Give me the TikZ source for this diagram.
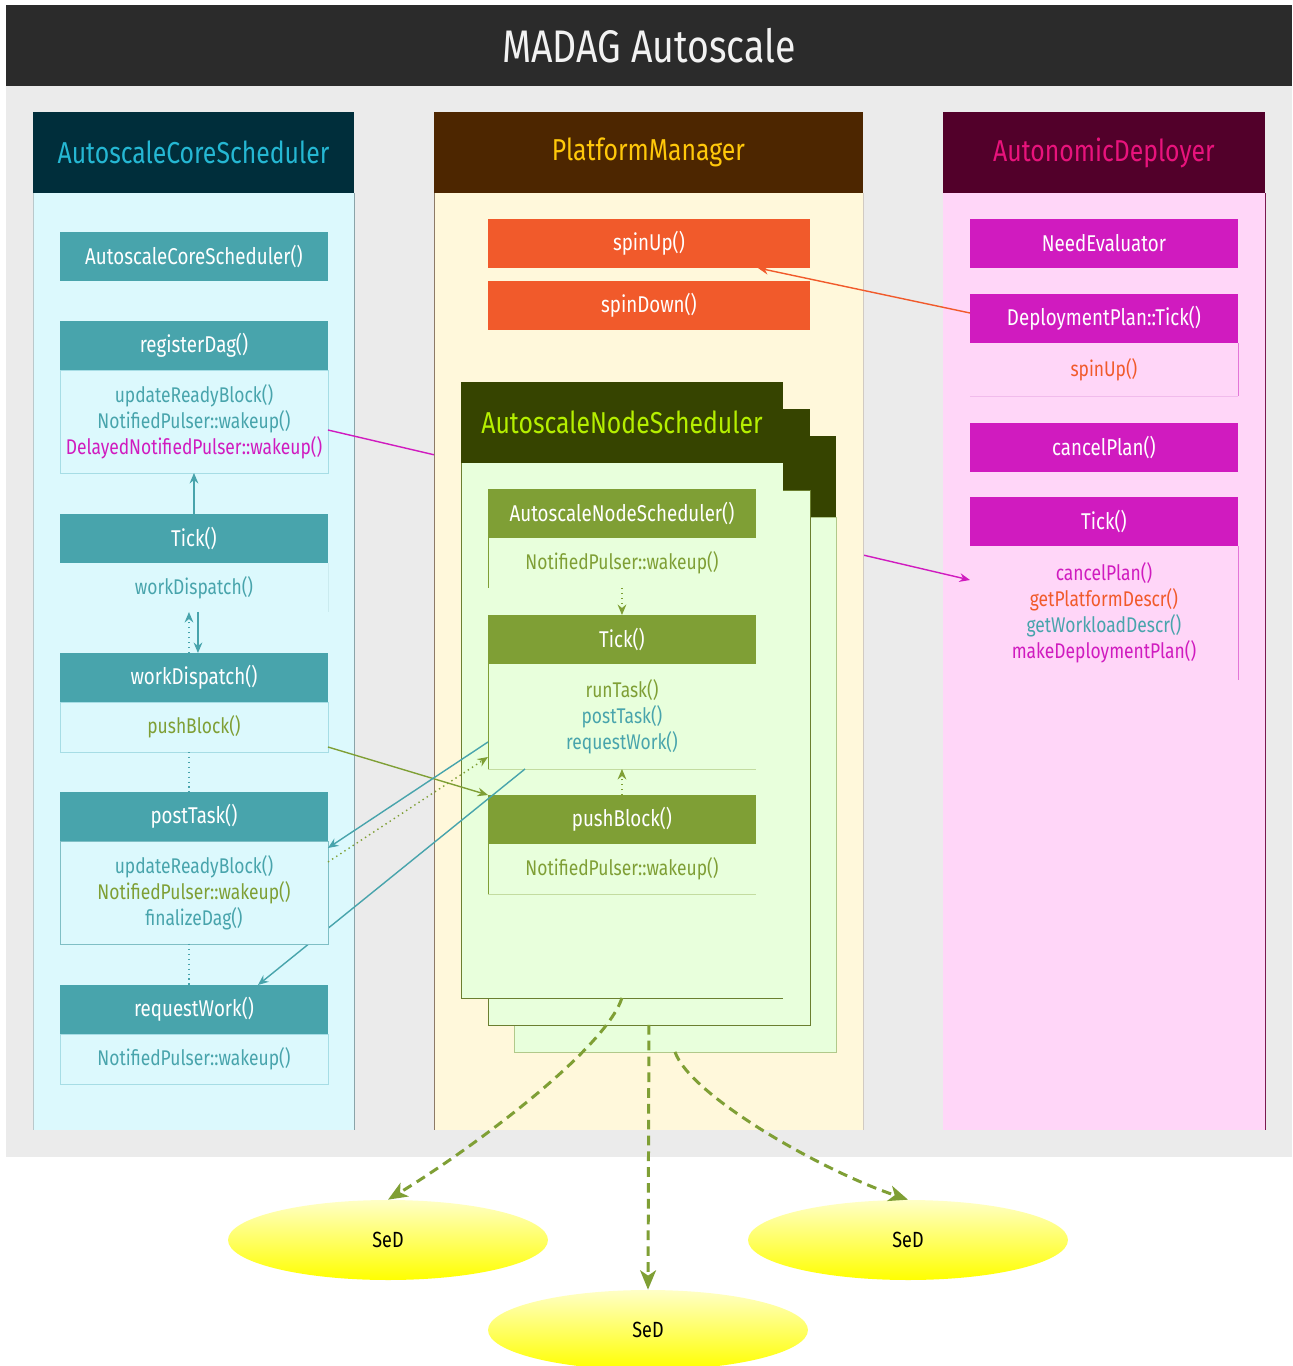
\documentclass[tikz,border=0pt]{standalone}
\usepackage{fontspec}
\setmainfont{Fira Sans}[FakeStretch=0.82]
\usetikzlibrary{arrows.meta,shapes.geometric}

\definecolor{barbg}{HTML}{2B2B2B}
\definecolor{panelbg}{HTML}{EBEBEB}
\definecolor{acsdark}{HTML}{002E3B}
\definecolor{acstitle}{HTML}{25B7D3}
\definecolor{acsbg}{HTML}{DCF9FD}
\definecolor{acsbox}{HTML}{48A4AC}
\definecolor{acsline}{HTML}{A6DDE5}
\definecolor{acsedge}{HTML}{8AA3A8}
\definecolor{pmdark}{HTML}{4D2600}
\definecolor{pmtitle}{HTML}{FFC80A}
\definecolor{pmbg}{HTML}{FFF8DB}
\definecolor{pmedge}{HTML}{8C7A66}
\definecolor{pmbox}{HTML}{F15A2B}
\definecolor{ansdark}{HTML}{364400}
\definecolor{anstitle}{HTML}{B5EF00}
\definecolor{ansbg}{HTML}{E8FFDC}
\definecolor{ansbox}{HTML}{7F9F35}
\definecolor{ansedge}{HTML}{6B7F30}
\definecolor{ansline}{HTML}{C3DCA0}
\definecolor{addark}{HTML}{52002A}
\definecolor{adtitle}{HTML}{E8137C}
\definecolor{adbg}{HTML}{FFD6F8}
\definecolor{adbox}{HTML}{D01BBF}
\definecolor{adedge}{HTML}{7A1A50}

\tikzset{
  box/.style={rectangle, inner sep=0pt, outer sep=0pt, anchor=north west},
  lanetitle/.style={box, minimum height=1.62cm, font=\fontsize{17.2}{19}\selectfont},
  head/.style={box, minimum height=0.98cm, text=white, font=\fontsize{13}{15}\selectfont},
  body/.style={box, align=center, font=\fontsize{12.1}{14.8}\selectfont},
  acshead/.style={head, fill=acsbox, minimum width=5.36cm},
  acsbody/.style={body, fill=acsbg, draw=acsline, minimum width=5.36cm, text=acsbox},
  pmhead/.style={head, fill=pmbox, minimum width=6.44cm},
  anshead/.style={head, fill=ansbox, minimum width=5.36cm},
  ansbody/.style={body, fill=ansbg, minimum width=5.36cm, text=ansbox},
  adhead/.style={head, fill=adbox, minimum width=5.36cm},
  adbody/.style={body, fill=adbg, minimum width=5.36cm, text=adbox},
  stackhead/.style={box, fill=ansdark, minimum width=6.44cm, minimum height=1.62cm},
  stackbody/.style={box, fill=ansbg, minimum width=6.44cm, minimum height=10.7cm},
  sed/.style={ellipse, minimum width=6.4cm, minimum height=1.6cm, inner sep=0pt,
    top color=yellow!22, bottom color=yellow, font=\fontsize{12.5}{14}\selectfont},
  acsflow/.style={draw=acsbox, line width=0.8pt},
  ansflow/.style={draw=ansbox, line width=0.8pt},
  pmflow/.style={draw=pmbox, line width=0.8pt},
  adflow/.style={draw=adbox, line width=0.8pt},
  spawn/.style={draw=ansbox, line width=1.7pt, dash pattern=on 5.5pt off 3.5pt},
  >={Stealth[length=6pt, width=5pt, inset=2pt]}
}

\begin{document}
\begin{tikzpicture}[x=0.02cm, y=-0.02cm]
  \useasboundingbox[fill=white] (0,0) rectangle (1292,1366);

  % title bar and panel
  \fill[panelbg] (6,86) rectangle (1292,1157);
  \node[box, fill=barbg, minimum width=25.72cm, minimum height=1.62cm, text=white!95!black,
    font=\fontsize{26}{28}\selectfont] (title) at (6,5) {MADAG Autoscale};

  % AutoscaleCoreScheduler lane
  \node[box, fill=acsbg, minimum width=6.42cm, minimum height=18.74cm] (acslane) at (33,193) {};
  \node[lanetitle, fill=acsdark, minimum width=6.42cm, text=acstitle] (acstitle) at (33,112) {AutoscaleCoreScheduler};
  \draw[acsedge!60] (acslane.north west) -- (acslane.south west);
  \draw[acsedge] (acslane.north east) -- (acslane.south east);

  % AutonomicDeployer lane
  \node[box, fill=adbg, minimum width=6.44cm, minimum height=18.74cm] (adlane) at (943,193) {};
  \node[lanetitle, fill=addark, minimum width=6.44cm, text=adtitle] (adtitle) at (943,112) {AutonomicDeployer};
  \draw[adedge] (adlane.north east) -- (adlane.south east);

  % core scheduler calls
  \node[acshead] (acsctor) at (60,232) {AutoscaleCoreScheduler()};
  \node[acshead] (rdhead) at (60,321) {registerDag()};
  \node[acsbody, minimum height=2.06cm] (rdbody) at (60,370)
    {updateReadyBlock()\\NotifiedPulser::wakeup()\\\textcolor{adbox}{DelayedNotifiedPulser::wakeup()}};
  \node[acshead] (acstick) at (60,514) {Tick()};
  \node[acsbody, draw=none, minimum height=0.98cm] (acstickbody) at (60,563) {workDispatch()};
  \draw[acsline!60] (acstickbody.north east) -- (acstickbody.south east);
  \node[acshead] (wdhead) at (60,653) {workDispatch()};
  \node[acsbody, minimum height=1.0cm] (wdbody) at (60,702) {\textcolor{ansbox}{pushBlock()}};
  \node[acshead] (rwhead) at (60,985) {requestWork()};
  \node[acsbody, minimum height=1.0cm] (rwbody) at (60,1034) {NotifiedPulser::wakeup()};

  % deployer calls
  \node[adhead] (needeval) at (970,219) {NeedEvaluator};
  \node[adhead] (dphead) at (970,294) {DeploymentPlan::Tick()};
  \node[adbody, minimum height=1.06cm] (dpbody) at (970,343) {\textcolor{pmbox}{spinUp()}};
  \draw[adbox!30] (dpbody.south west) -- (dpbody.south east);
  \draw[adbox!60] (dpbody.north east) -- (dpbody.south east);
  \node[adhead] (cancel) at (970,423) {cancelPlan()};
  \node[adhead] (adtick) at (970,497) {Tick()};
  \node[adbody, minimum height=2.68cm] (adtickbody) at (970,546)
    {cancelPlan()\\\textcolor{pmbox}{getPlatformDescr()}\\\textcolor{acsbox}{getWorkloadDescr()}\\makeDeploymentPlan()};
  \draw[adbox!60] (adtickbody.north east) -- (adtickbody.south east);

  \draw[adflow, ->] ([yshift=-0.17cm]rdbody.east) -- ([yshift=0.66cm]adtickbody.west);

  % PlatformManager lane
  \node[box, fill=pmbg, minimum width=8.58cm, minimum height=18.74cm] (pmlane) at (434,193) {};
  \node[lanetitle, fill=pmdark, minimum width=8.58cm, text=pmtitle] (pmtitle) at (434,112) {PlatformManager};
  \draw[pmedge] (pmlane.north west) -- (pmlane.south west);
  \draw[pmedge!40] (pmlane.north east) -- (pmlane.south east);
  \node[pmhead] (spinup) at (488,219) {spinUp()};
  \node[pmhead] (spindown) at (488,281) {spinDown()};

  % stack of node schedulers
  \node[stackbody, draw=ansline!80!ansedge] (ansback) at (514,517) {};
  \node[stackhead] (ansbackhead) at (514,436) {};
  \node[stackbody, draw=ansedge] (ansmid) at (488,490) {};
  \node[stackhead] (ansmidhead) at (488,409) {};
  \node[stackbody] (ansfront) at (461,463) {};
  \draw[ansedge] (ansfront.north west) -- (ansfront.south west) -- (ansfront.south east);
  \node[stackhead, text=anstitle, font=\fontsize{17.2}{19}\selectfont] (ansfronthead) at (461,382) {AutoscaleNodeScheduler};

  \node[anshead] (ctorhead) at (488,489) {AutoscaleNodeScheduler()};
  \node[ansbody, minimum height=1.0cm] (ctorbody) at (488,538) {NotifiedPulser::wakeup()};
  \draw[ansbox] (ctorbody.north west) -- (ctorbody.south west);
  \node[anshead] (nthead) at (488,615) {Tick()};
  \node[ansbody, minimum height=2.1cm] (ntbody) at (488,664)
    {runTask()\\\textcolor{acsbox}{postTask()}\\\textcolor{acsbox}{requestWork()}};
  \draw[ansbox] (ntbody.north west) -- (ntbody.south west);
  \draw[ansline] (ntbody.south west) -- (ntbody.south east);
  \node[anshead] (pbhead) at (488,795) {pushBlock()};
  \node[ansbody, minimum height=1.0cm] (pbbody) at (488,844) {NotifiedPulser::wakeup()};
  \draw[ansbox] (pbbody.north west) -- (pbbody.south west);
  \draw[ansline] (pbbody.south west) -- (pbbody.south east);

  \draw[acsflow, ->] ([xshift=0.74cm]ntbody.south west) -- ([xshift=1.28cm]rwhead.north);

  \node[acshead] (pthead) at (60,792) {postTask()};
  \node[acsbody, draw=acsbox!70, minimum height=2.06cm] (ptbody) at (60,841)
    {updateReadyBlock()\\\textcolor{ansbox}{NotifiedPulser::wakeup()}\\finalizeDag()};

  % connectors
  \draw[acsflow, ->] (acstick.north) -- (rdbody.south);
  \draw[acsflow, dotted, ->] ([xshift=-0.1cm]wdhead.north) -- ([xshift=-0.1cm]acstickbody.south);
  \draw[acsflow, ->] ([xshift=0.08cm]acstickbody.south) -- ([xshift=0.08cm]wdhead.north);
  \draw[acsflow, dotted] ([xshift=-0.1cm]wdbody.south) -- ([xshift=-0.1cm]pthead.north);
  \draw[acsflow, dotted] ([xshift=-0.1cm]ptbody.south) -- ([xshift=-0.1cm]rwhead.north);
  \draw[ansflow, ->] ([yshift=0.1cm]wdbody.south east) -- (pbhead.north west);
  \draw[acsflow, ->] ([yshift=0.54cm]ntbody.south west) -- ([yshift=-0.14cm]ptbody.north east);
  \draw[ansflow, dotted, ->] ([yshift=-0.42cm]ptbody.north east) -- ([yshift=0.24cm]ntbody.south west);
  \draw[ansflow, dotted, ->] (ctorbody.south) -- (nthead.north);
  \draw[ansflow, dotted, ->] (pbhead.north) -- (ntbody.south);
  \draw[pmflow, ->] ([yshift=0.11cm]dphead.west) -- ([xshift=2.18cm]spinup.south);

  % SeDs
  \node[sed] (sedleft) at (388,1240) {SeD};
  \node[sed] (sedright) at (908,1240) {SeD};
  \node[sed] (sedmid) at (648,1330) {SeD};
  \draw[spawn, -{Stealth[length=11pt, width=9pt, inset=3pt]}] (ansfront.south)
    .. controls (605,1050) and (470,1150) .. (sedleft.north);
  \draw[spawn, -{Stealth[length=11pt, width=9pt, inset=3pt]}] (ansmid.south) -- (sedmid.north);
  \draw[spawn, -{Stealth[length=11pt, width=9pt, inset=3pt]}] (ansback.south)
    .. controls (690,1095) and (820,1170) .. (sedright.north);
\end{tikzpicture}
\end{document}
